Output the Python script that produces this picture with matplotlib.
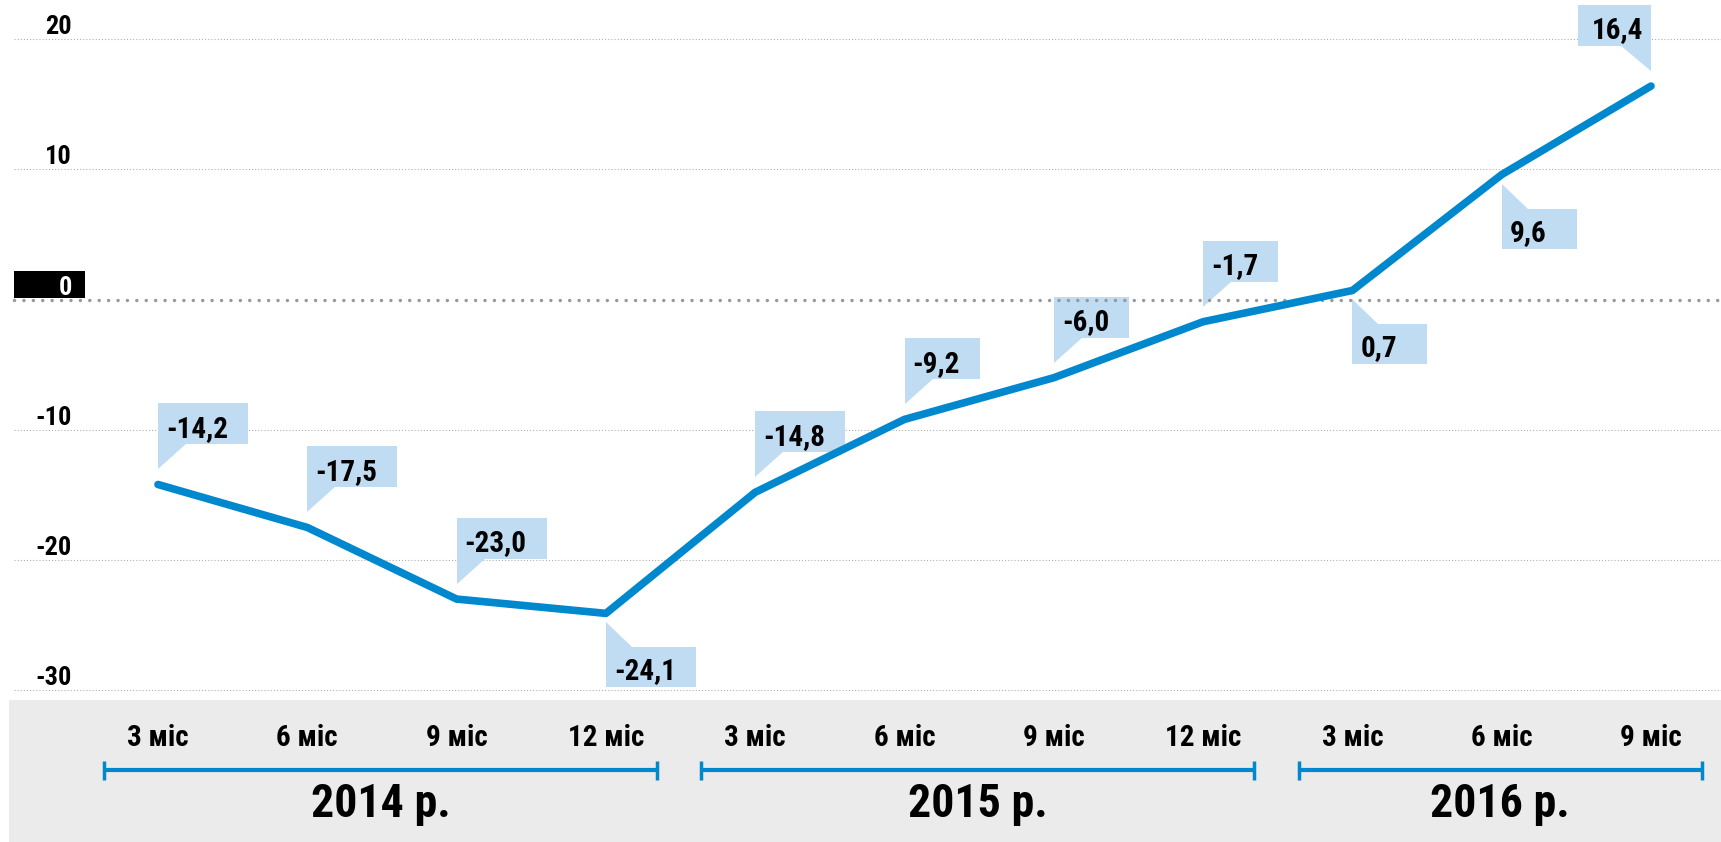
import numpy as np
import matplotlib
matplotlib.use("Agg")
import matplotlib.pyplot as plt
import matplotlib.transforms as mt
from matplotlib.patches import Polygon, Rectangle
from matplotlib import font_manager as fm

# ---------------- data ----------------
months = ['3 міс', '6 міс', '9 міс', '12 міс', '3 міс', '6 міс', '9 міс', '12 міс',
          '3 міс', '6 міс', '9 міс']
values = [-14.2, -17.5, -23.0, -24.1, -14.8, -9.2, -6.0, -1.7, 0.7, 9.6, 16.4]
value_labels = ['-14,2', '-17,5', '-23,0', '-24,1', '-14,8', '-9,2', '-6,0', '-1,7',
                '0,7', '9,6', '16,4']
callout_side = ['ur', 'ur', 'ur', 'dr', 'ur', 'ur', 'ur', 'ur', 'dr', 'dr', 'ul']
years = ['2014 р.', '2015 р.', '2016 р.']
year_spans = [(0, 3), (4, 7), (8, 10)]
yticks = [20, 10, 0, -10, -20, -30]

# ---------------- fonts ----------------
names = {f.name for f in fm.fontManager.ttflist}
FONT = 'DejaVu Sans'
for cand in ['Roboto Condensed', 'Liberation Sans Narrow', 'Roboto']:
    if cand in names:
        FONT = cand
        break
plt.rcParams['font.family'] = [FONT, 'DejaVu Sans']
plt.rcParams['font.weight'] = 'bold'

BLUE = '#0088cf'
CALL = '#bfdcf2'
GREY_BAND = '#ebebeb'

W, H = 1721, 842
fig = plt.figure(figsize=(W / 100, H / 100), dpi=100)
fig.patch.set_facecolor('white')
ax = fig.add_axes([0, 142 / H, 1, 700 / H])
ax.set_axis_off()
ax.set_zorder(1)
ax.patch.set_alpha(0)

x = np.arange(1, len(values) + 1)
x0px, dxpx = 158, 149.3
ax.set_xlim(1 - x0px / dxpx, len(values) + (W - (x0px + (len(values) - 1) * dxpx)) / dxpx)
zero_px, ppu = 299.6, 13.02
ax.set_ylim(-(700 - zero_px) / ppu, zero_px / ppu)

# grey band
fig.patches.append(Rectangle((9 / W, 0), 1 - 9 / W, 142 / H, transform=fig.transFigure,
                             facecolor=GREY_BAND, edgecolor='none', zorder=-1))

# gridlines
gx = 14 / W
for t in yticks:
    if t == 0:
        ax.axhline(t, xmin=gx, xmax=1, color='#999999', lw=2.5,
                   linestyle=(0, (0.01, 2.7)), dash_capstyle='round', zorder=2.5)
    else:
        ax.axhline(t, xmin=gx, xmax=1, color='#aaaaaa', lw=0.75,
                   linestyle=(0, (1, 2)), zorder=1)

# y labels
blend_ay = mt.blended_transform_factory(ax.transAxes, ax.transData)
for t in yticks:
    if t == 0:
        ax.add_patch(Rectangle((14, 2), 71, 27, facecolor='black', edgecolor='none',
                               transform=mt.Affine2D() + mt.ScaledTranslation(0, 0, blend_ay),
                               zorder=4, clip_on=False))
        ax.text(72 / W, t, '0', color='white', fontsize=19, fontweight='bold',
                ha='right', va='baseline', zorder=5,
                transform=mt.offset_copy(blend_ay, fig=fig, x=0, y=5, units='dots'))
    else:
        ax.text(72 / W, t, f'{t}', color='black', fontsize=19, fontweight='bold',
                ha='right', va='baseline', zorder=5,
                transform=mt.offset_copy(blend_ay, fig=fig, x=0, y=5, units='dots'))

# main line
ax.plot(x, values, color=BLUE, lw=5.5, solid_capstyle='round', solid_joinstyle='round',
        zorder=3)

# callouts
renderer = fig.canvas.get_renderer()
g_up, g_dn = 15, 9
tri_h, box_h = 25, 41
for xi, v, lab, side in zip(x, values, value_labels, callout_side):
    if side == 'ur':
        off = (8, g_up + tri_h + 7.5)
        ha = 'left'
    elif side == 'ul':
        off = (-8, g_up + tri_h + 7.5)
        ha = 'right'
    else:
        off = (8, -(g_dn + tri_h + box_h) + 9)
        ha = 'left'
    txt = ax.text(xi, v, lab, fontsize=21, fontweight='bold', color='black',
                  ha=ha, va='baseline', zorder=6, clip_on=False,
                  transform=mt.offset_copy(ax.transData, fig=fig, x=off[0], y=off[1],
                                           units='dots'))
    tw = txt.get_window_extent(renderer).width
    tr = mt.Affine2D() + mt.ScaledTranslation(xi, v, ax.transData)
    if side == 'ur':
        bw = max(74, tw + 28)
        tri = [(0, g_up), (0, g_up + tri_h + 1), (29, g_up + tri_h + 1)]
        box = (0, g_up + tri_h, bw, box_h)
    elif side == 'ul':
        bw = tw + 22
        tri = [(0, g_up), (0, g_up + tri_h + 1), (-31, g_up + tri_h + 1)]
        box = (-bw, g_up + tri_h, bw, box_h)
    else:
        bw = max(75, tw + 28)
        tri = [(0, -g_dn), (0, -g_dn - tri_h - 1), (27, -g_dn - tri_h - 1)]
        box = (0, -g_dn - tri_h - 40, bw, 40)
    ax.add_patch(Polygon(tri, closed=True, facecolor=CALL, edgecolor='none',
                         transform=tr, zorder=2, clip_on=False))
    ax.add_patch(Rectangle(box[:2], box[2], box[3], facecolor=CALL, edgecolor='none',
                           transform=tr, zorder=2, clip_on=False))

# bottom axis: month labels, brackets, years
bx = mt.blended_transform_factory(ax.transData, fig.transFigure)
for xi, m in zip(x, months):
    ax.text(xi, 1 - 746 / H, m, transform=bx, ha='center', va='baseline',
            fontsize=21, fontweight='bold', color='black', clip_on=False)

yb = 1 - 770 / H
cap = 9.5 / H
for (a, b), yr in zip(year_spans, years):
    l, r = x[a] - 0.36, x[b] + 0.34
    ax.plot([l, r], [yb, yb], transform=bx, color=BLUE, lw=3, solid_capstyle='butt',
            clip_on=False)
    for e in (l, r):
        ax.plot([e, e], [yb - cap, yb + cap], transform=bx, color=BLUE, lw=2.5,
                solid_capstyle='butt', clip_on=False)
    ax.text((l + r) / 2, 1 - 817 / H, yr, transform=bx, ha='center', va='baseline',
            fontsize=33, fontweight='bold', color='black', clip_on=False)

fig.savefig('out.png', dpi=100, facecolor='white')
